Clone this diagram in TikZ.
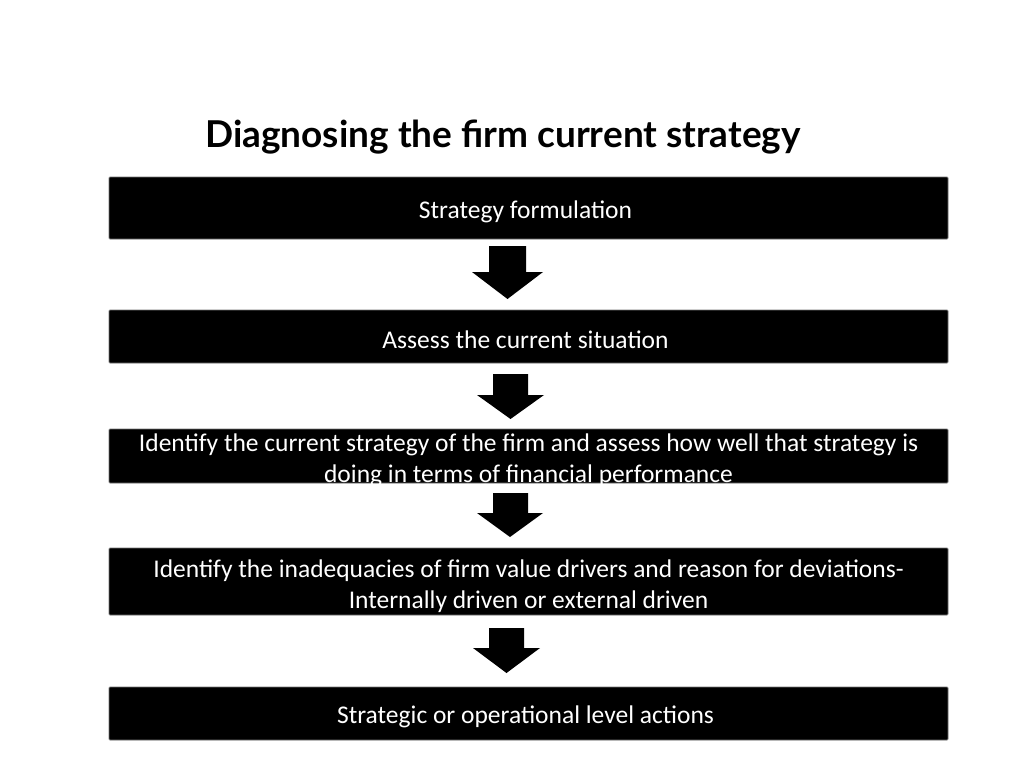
\documentclass[tikz,border=0pt]{standalone}
\usepackage{fontspec}
\setmainfont{Carlito}
\newfontfamily\titlefont{Lato}
\begin{document}
\begin{tikzpicture}[x=1pt,y=-1pt,
  stepbox/.style={fill=black,draw=black!55,line width=0.8pt,rounded corners=1pt,
    minimum width=839pt,inner sep=0pt},
  steptext/.style={text=white,inner sep=0pt,align=center,font=\fontsize{25.5}{31}\selectfont},
  blockarrow/.style={fill=black,draw=none}]
\useasboundingbox (0,0) rectangle (1024,768);
\fill[white] (0,0) rectangle (1024,768);
\node[font=\titlefont\bfseries\fontsize{37}{44}\selectfont,anchor=base] (title) at (503,147) {Diagnosing the firm current strategy};
\node[stepbox,minimum height=62pt] (b1) at (528.5,208) {};
\node[steptext] (t1) at (525.5,212) {Strategy formulation};
\node[stepbox,minimum height=53pt] (b2) at (528.5,336.5) {};
\node[steptext] (t2) at (525.5,340) {Assess the current situation};
\node[stepbox,minimum height=54pt] (b3) at (528.5,456) {};
\node[steptext] (t3) at (528.5,460) {Identify the current strategy of the firm and assess how well that strategy is\\doing in terms of financial performance};
\node[stepbox,minimum height=67pt] (b4) at (528.5,581.5) {};
\node[steptext] (t4) at (528.5,586) {Identify the inadequacies of firm value drivers and reason for deviations-\\Internally driven or external driven};
\node[stepbox,minimum height=53pt] (b5) at (528.5,713.5) {};
\node[steptext] (t5) at (525.5,717) {Strategic or operational level actions};
% block arrows
\fill[blockarrow] (489,246) -- (526,246) -- (526,272) -- (543,272) -- (507.5,299) -- (472,272) -- (489,272) -- cycle;
\fill[blockarrow] (493,374) -- (528,374) -- (528,395) -- (544,395) -- (510.5,419) -- (477,395) -- (493,395) -- cycle;
\fill[blockarrow] (493,493) -- (528,493) -- (528,513) -- (543,513) -- (510,537) -- (477,513) -- (493,513) -- cycle;
\fill[blockarrow] (489,628) -- (524,628) -- (524,648) -- (540,648) -- (506.5,673) -- (473,648) -- (489,648) -- cycle;
\end{tikzpicture}
\end{document}
